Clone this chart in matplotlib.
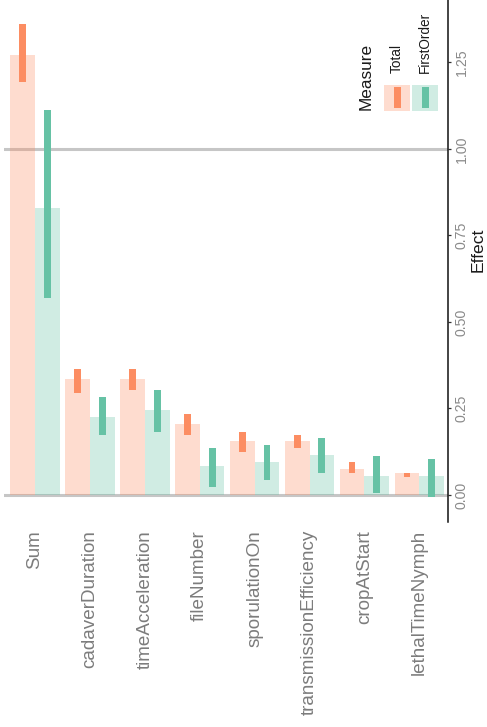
import matplotlib
matplotlib.use("Agg")
import matplotlib.pyplot as plt
from matplotlib.patches import Rectangle

plt.rcParams["font.family"] = ["Liberation Sans", "DejaVu Sans"]

# sensitivity indices per parameter
parameters = ["Sum", "cadaverDuration", "timeAcceleration", "fileNumber",
              "sporulationOn", "transmissionEfficiency", "cropAtStart",
              "lethalTimeNymph"]
measures = ["Total", "FirstOrder"]

total_est = [1.272, 0.335, 0.335, 0.205, 0.156, 0.156, 0.075, 0.064]
total_low = [1.192, 0.294, 0.303, 0.173, 0.125, 0.135, 0.064, 0.053]
total_high = [1.361, 0.364, 0.364, 0.234, 0.183, 0.173, 0.095, 0.064]

first_est = [0.829, 0.226, 0.246, 0.084, 0.095, 0.116, 0.055, 0.055]
first_low = [0.570, 0.173, 0.183, 0.024, 0.043, 0.064, 0.005, -0.007]
first_high = [1.112, 0.284, 0.303, 0.135, 0.145, 0.164, 0.114, 0.104]

ref_lines = [0.0, 1.0]
effect_ticks = [0.0, 0.25, 0.50, 0.75, 1.00, 1.25]

palette = {"Total": "#FC8D62", "FirstOrder": "#66C2A5"}

W, H = 487, 727
fig = plt.figure(figsize=(W / 100, H / 100), dpi=100)
ax = fig.add_axes([4 / W, 1 - 522 / H, 443.7 / W, 522 / H])

series = {
    "Total": (total_est, total_low, total_high, -0.225),
    "FirstOrder": (first_est, first_low, first_high, 0.225),
}
xs = list(range(len(parameters)))

for y in ref_lines:
    ax.axhline(y, color="#c6c6c6", lw=2.2, zorder=1)

for name in measures:
    est, lo, hi, off = series[name]
    pos = [x + off for x in xs]
    ax.bar(pos, est, width=0.45, color=palette[name], alpha=0.3,
           linewidth=0, zorder=2)
    ax.bar(pos, [h - l for h, l in zip(hi, lo)], bottom=lo, width=0.125,
           color=palette[name], linewidth=0, zorder=3)

ax.set_xlim(-0.565, 7.517)
ax.set_ylim(-0.078, 1.43)

for side in ["top", "left", "bottom"]:
    ax.spines[side].set_visible(False)
ax.spines["right"].set_color("#111111")
ax.spines["right"].set_linewidth(1.1)

ax.yaxis.tick_right()
ax.set_yticks(effect_ticks)
ax.set_yticklabels([f"{t:.2f}" for t in effect_ticks], rotation=90,
                   va="center", color="#8a8a8a", fontsize=10.2)
ax.tick_params(axis="y", length=2.5, width=0.9, color="#333333", pad=2.5)

ax.set_xticks(xs)
ax.set_xticklabels(parameters, rotation=90, va="top", ha="center",
                   color="#7c7c7c", fontsize=13.6)
ax.tick_params(axis="x", length=0, pad=5.8)

fig.text(478 / W, 1 - 250 / H, "Effect", rotation=90, ha="center",
         va="center", fontsize=12.6, color="#1a1a1a")

# legend, laid out in pixel space on an overlay
lg = fig.add_axes([0, 0, 1, 1], facecolor="none")
lg.set_xlim(0, W)
lg.set_ylim(H, 0)
lg.axis("off")
lg.text(366, 110, "Measure", rotation=90, ha="center", va="bottom",
        fontsize=12.4, color="#1a1a1a")
for i, name in enumerate(measures):
    x0 = 384 + i * 28.3
    lg.add_patch(Rectangle((x0, 85), 26, 26, color=palette[name],
                           alpha=0.3, lw=0))
    lg.add_patch(Rectangle((x0 + 10, 86.7), 6.7, 21.6, color=palette[name],
                           lw=0))
    lg.text(x0 + 13, 73, name, rotation=90, ha="center", va="bottom",
            fontsize=9.8, color="#1a1a1a")

fig.savefig("out.png", dpi=100)
